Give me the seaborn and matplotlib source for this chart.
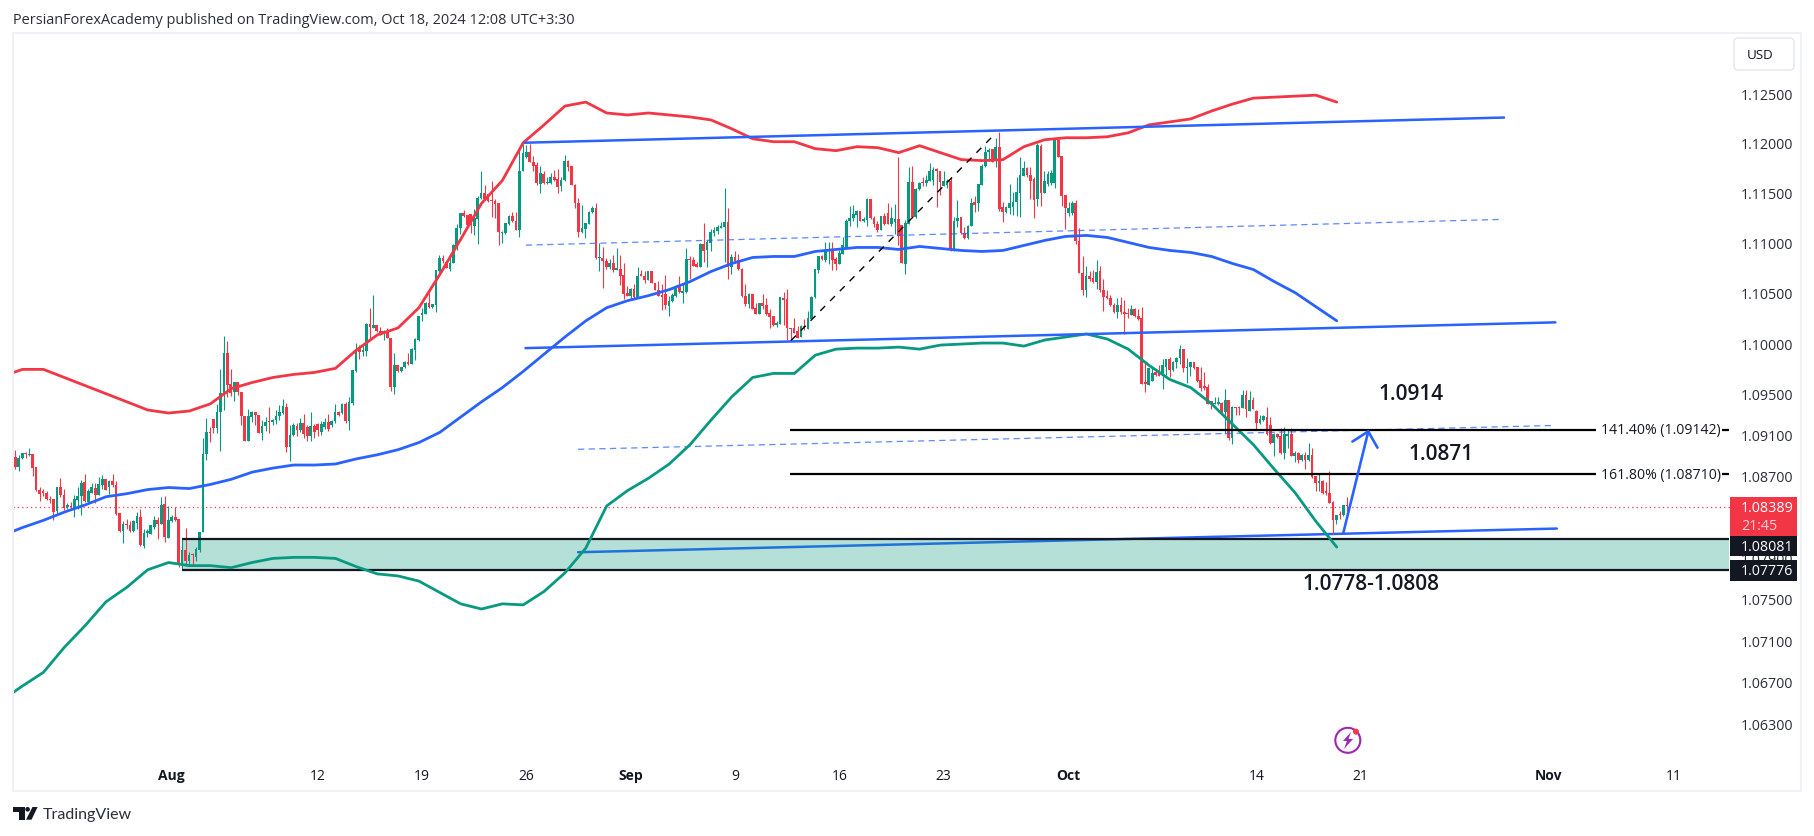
import numpy as np
import pandas as pd
import seaborn as sns
import matplotlib.pyplot as plt
from matplotlib.patches import Rectangle, Circle, Polygon, FancyBboxPatch
from matplotlib.ticker import NullLocator

# EURUSD 4h candles, prices in 1/10000, first candle is 45 bars before Aug 1
first_bar = -45
bars_per_day = 6
opens = [
    10888,10878,10887,10892,10890,10891,10878,10856,10855,10853,
    10847,10847,10835,10859,10851,10839,10840,10838,10846,10850,
    10863,10844,10853,10858,10851,10860,10866,10859,10864,10860,
    10833,10816,10822,10821,10816,10823,10829,10801,10814,10813,
    10820,10826,10822,10842,10809,10825,10829,10827,10783,10797,
    10786,10793,10790,10797,10815,10891,10912,10925,10916,10932,
    10951,10990,10960,10952,10962,10952,10928,10904,10927,10932,
    10929,10911,10918,10923,10922,10924,10928,10931,10937,10898,
    10909,10918,10914,10921,10917,10908,10918,10920,10912,10917,
    10922,10919,10923,10932,10931,10940,10923,10941,10972,10995,
    10991,10992,11019,11015,11018,11012,11009,11012,11005,10957,
    10978,10972,10976,10981,10979,10993,11003,11028,11029,11040,
    11036,11038,11072,11084,11080,11074,11079,11096,11114,11129,
    11127,11128,11116,11123,11144,11149,11148,11142,11141,11139,
    11109,11109,11118,11126,11121,11112,11172,11186,11191,11181,
    11178,11158,11169,11159,11159,11166,11164,11156,11163,11182,
    11177,11157,11139,11110,11113,11118,11130,11134,11084,11084,
    11081,11076,11079,11073,11074,11068,11050,11047,11054,11046,
    11068,11067,11063,11072,11060,11053,11048,11049,11037,11042,
    11047,11056,11050,11051,11083,11082,11078,11076,11098,11092,
    11099,11109,11111,11114,11115,11120,11076,11085,11082,11074,
    11047,11039,11049,11035,11029,11040,11038,11030,11027,11018,
    11019,11045,11044,11015,11015,11012,11006,11017,11014,11024,
    11046,11073,11086,11082,11092,11092,11083,11078,11088,11094,
    11121,11124,11127,11131,11121,11122,11143,11124,11118,11112,
    11126,11129,11118,11120,11123,11117,11078,11118,11161,11125,
    11153,11160,11159,11162,11163,11173,11172,11156,11157,11162,
    11092,11121,11125,11109,11104,11116,11140,11139,11157,11177,
    11191,11194,11182,11196,11135,11130,11134,11135,11140,11149,
    11167,11175,11168,11164,11143,11197,11149,11158,11159,11159,
    11203,11187,11147,11129,11129,11139,11101,11070,11053,11067,
    11065,11061,11072,11053,11046,11045,11038,11031,11038,11031,
    11030,11028,11034,11027,11025,10961,10959,10963,10971,10971,
    10968,10976,10984,10973,10981,10985,10994,10975,10976,10981,
    10976,10964,10957,10957,10943,10940,10940,10941,10932,10944,
    10906,10937,10937,10936,10949,10933,10944,10933,10921,10924,
    10927,10919,10902,10910,10908,10892,10908,10910,10889,10892,
    10885,10890,10885,10890,10869,10862,10864,10854,10853,10844,
    10826,10832,10831,10841,
]
closes = [
    10878,10887,10892,10891,10891,10877,10856,10852,10853,10847,
    10846,10834,10859,10851,10838,10841,10839,10847,10850,10862,
    10845,10855,10859,10851,10861,10866,10856,10864,10860,10832,
    10816,10822,10821,10816,10825,10830,10802,10814,10815,10821,
    10826,10822,10841,10810,10826,10829,10826,10783,10797,10786,
    10792,10792,10798,10815,10891,10912,10911,10916,10932,10951,
    10990,10959,10951,10962,10952,10928,10904,10928,10932,10929,
    10911,10918,10922,10922,10924,10928,10932,10938,10898,10909,
    10919,10914,10921,10910,10908,10918,10912,10914,10920,10922,
    10915,10923,10932,10929,10940,10923,10942,10973,10994,10991,
    10993,11019,11016,11018,11012,11009,11012,11005,10957,10978,
    10972,10976,10981,10979,10994,11004,11027,11030,11040,11036,
    11039,11073,11084,11081,11075,11079,11097,11114,11129,11126,
    11117,11117,11124,11144,11149,11143,11141,11141,11138,11110,
    11110,11119,11126,11121,11112,11172,11190,11191,11181,11177,
    11159,11170,11159,11160,11166,11163,11155,11163,11182,11176,
    11157,11139,11110,11114,11119,11130,11134,11084,11084,11081,
    11076,11079,11073,11074,11067,11049,11047,11054,11046,11067,
    11067,11063,11072,11060,11053,11047,11046,11038,11042,11048,
    11056,11051,11052,11083,11082,11077,11076,11098,11091,11100,
    11110,11112,11115,11116,11120,11076,11085,11081,11074,11047,
    11039,11049,11034,11029,11040,11037,11029,11026,11018,11020,
    11046,11043,11015,11014,11010,11005,11017,11016,11025,11046,
    11074,11086,11083,11092,11093,11082,11078,11089,11097,11121,
    11124,11128,11131,11121,11123,11143,11124,11118,11112,11126,
    11118,11118,11124,11123,11106,11079,11119,11161,11125,11153,
    11159,11159,11163,11172,11173,11172,11160,11162,11162,11092,
    11121,11124,11109,11104,11116,11139,11137,11158,11177,11191,
    11193,11181,11196,11133,11130,11135,11139,11140,11150,11168,
    11175,11168,11162,11142,11198,11149,11162,11169,11170,11203,
    11186,11146,11134,11134,11139,11101,11070,11053,11067,11064,
    11061,11071,11053,11046,11045,11038,11031,11038,11031,11029,
    11029,11034,11027,11024,10960,10960,10975,10970,10968,10967,
    10978,10984,10973,10981,10985,10994,10975,10976,10981,10975,
    10963,10956,10956,10940,10940,10941,10942,10932,10944,10906,
    10937,10936,10936,10949,10935,10944,10935,10921,10925,10928,
    10910,10902,10910,10907,10892,10910,10910,10889,10892,10885,
    10890,10885,10890,10868,10862,10864,10853,10853,10843,10826,
    10831,10831,10841,10840,
]
highs = [
    10895,10890,10892,10893,10897,10891,10878,10859,10857,10855,
    10850,10847,10859,10867,10857,10843,10844,10851,10859,10865,
    10871,10857,10862,10862,10868,10870,10866,10865,10871,10864,
    10833,10825,10827,10825,10826,10834,10837,10818,10818,10821,
    10830,10829,10849,10850,10840,10831,10839,10827,10808,10819,
    10795,10794,10800,10815,10906,10926,10917,10925,10940,10974,
    11007,11002,10974,10962,10962,10952,10928,10935,10933,10932,
    10929,10924,10927,10937,10925,10934,10939,10945,10941,10919,
    10921,10921,10926,10930,10919,10932,10920,10921,10923,10926,
    10930,10924,10940,10933,10941,10942,10947,10973,11000,10998,
    10998,11020,11035,11048,11018,11016,11013,11015,11005,10990,
    10978,10976,10982,10990,10995,11005,11027,11035,11041,11050,
    11039,11073,11087,11087,11081,11088,11098,11118,11129,11132,
    11127,11128,11133,11146,11172,11157,11148,11162,11143,11139,
    11111,11119,11127,11130,11130,11195,11199,11198,11199,11187,
    11181,11177,11172,11166,11170,11173,11174,11166,11188,11183,
    11177,11158,11144,11137,11119,11131,11136,11139,11099,11095,
    11084,11083,11087,11094,11087,11079,11057,11055,11059,11076,
    11073,11072,11072,11072,11060,11062,11059,11068,11047,11050,
    11058,11067,11060,11094,11086,11085,11080,11099,11119,11102,
    11113,11115,11117,11120,11154,11134,11088,11091,11088,11075,
    11059,11050,11049,11040,11040,11049,11045,11034,11027,11022,
    11046,11051,11054,11015,11025,11017,11018,11024,11032,11047,
    11074,11086,11087,11100,11100,11100,11085,11092,11105,11123,
    11136,11137,11132,11131,11125,11144,11143,11126,11121,11126,
    11129,11139,11135,11138,11186,11117,11122,11176,11177,11154,
    11161,11166,11168,11180,11176,11175,11172,11172,11164,11166,
    11125,11142,11125,11115,11117,11144,11146,11158,11179,11197,
    11195,11194,11205,11211,11140,11136,11158,11150,11166,11186,
    11182,11176,11176,11166,11200,11199,11172,11172,11173,11205,
    11204,11187,11147,11140,11141,11142,11114,11086,11077,11072,
    11073,11082,11077,11064,11053,11048,11040,11045,11046,11043,
    11035,11038,11035,11034,11036,10981,10975,10976,10973,10978,
    10984,10984,10986,10982,10986,10998,10994,10985,10981,10981,
    10976,10976,10971,10960,10943,10947,10947,10942,10955,10944,
    10938,10937,10938,10954,10954,10953,10947,10934,10929,10929,
    10937,10927,10911,10911,10916,10917,10915,10916,10894,10893,
    10891,10893,10902,10897,10869,10872,10865,10863,10874,10845,
    10831,10835,10841,10849,
]
lows = [
    10876,10874,10886,10887,10889,10869,10855,10845,10850,10846,
    10843,10826,10833,10849,10836,10837,10836,10829,10837,10831,
    10844,10844,10853,10843,10851,10857,10856,10852,10859,10831,
    10815,10804,10818,10815,10815,10818,10801,10799,10810,10813,
    10818,10808,10822,10805,10809,10824,10825,10781,10779,10782,
    10782,10783,10786,10795,10815,10885,10903,10911,10911,10894,
    10934,10947,10948,10943,10949,10919,10904,10904,10922,10919,
    10911,10905,10913,10911,10919,10920,10924,10930,10893,10884,
    10908,10908,10912,10906,10904,10904,10906,10908,10909,10915,
    10913,10917,10921,10928,10930,10921,10914,10939,10971,10984,
    10987,10987,11004,11015,11011,11008,11003,11005,10953,10950,
    10971,10971,10975,10978,10979,10983,11002,11022,11029,11035,
    11035,11031,11069,11079,11075,11072,11079,11092,11108,11125,
    11116,11109,11107,11098,11143,11142,11140,11125,11124,11097,
    11099,11108,11117,11120,11112,11105,11172,11185,11181,11172,
    11157,11149,11158,11158,11158,11162,11149,11151,11162,11172,
    11157,11134,11105,11109,11104,11118,11129,11083,11072,11055,
    11074,11074,11071,11073,11058,11044,11047,11043,11044,11045,
    11067,11060,11063,11060,11053,11047,11033,11034,11027,11041,
    11046,11050,11040,11050,11064,11077,11076,11076,11080,11076,
    11091,11106,11108,11114,11080,11064,11069,11079,11073,11046,
    11037,11035,11034,11029,11029,11034,11028,11015,11017,11016,
    11019,11018,11003,11003,11010,11005,11006,11013,11014,11024,
    11045,11070,11082,11080,11078,11073,11073,11078,11088,11094,
    11116,11121,11115,11121,11120,11116,11123,11115,11110,11112,
    11117,11118,11116,11108,11097,11079,11069,11118,11125,11124,
    11152,11156,11156,11162,11157,11135,11147,11156,11154,11091,
    11091,11115,11108,11103,11103,11116,11130,11131,11157,11176,
    11182,11181,11176,11131,11120,11129,11128,11127,11126,11125,
    11167,11166,11143,11124,11136,11136,11149,11156,11157,11154,
    11186,11136,11113,11126,11127,11098,11070,11048,11046,11062,
    11060,11054,11051,11032,11044,11037,11030,11025,11029,11009,
    11025,11028,11026,11023,10960,10952,10959,10963,10967,10967,
    10955,10968,10966,10972,10975,10979,10971,10961,10967,10974,
    10962,10953,10954,10940,10935,10940,10939,10929,10910,10905,
    10901,10929,10929,10936,10927,10933,10935,10915,10920,10923,
    10909,10901,10889,10906,10891,10886,10897,10889,10883,10882,
    10884,10876,10884,10867,10855,10855,10852,10851,10843,10813,
    10822,10827,10830,10832,
]

# daily bollinger bands, one value per trading day starting 8 days before Aug 1
band_upper = [
    10967,10974,10974,10966,10958,10950,10942,10934,10931,10933,
    10940,10955,10961,10966,10969,10971,10975,10993,11008,11015,
    11035,11068,11103,11139,11162,11200,11218,11237,11241,11230,
    11228,11230,11228,11226,11223,11214,11204,11201,11201,11194,
    11192,11196,11195,11190,11197,11190,11183,11182,11183,11196,
    11203,11205,11205,11206,11210,11218,11221,11224,11232,11239,
    11245,11246,11247,11248,11241,
]
band_middle = [
    10811,10819,10826,10834,10841,10849,10852,10856,10858,10857,
    10861,10866,10873,10877,10880,10880,10881,10886,10890,10895,
    10902,10912,10927,10942,10956,10972,10989,11006,11022,11035,
    11042,11047,11053,11061,11071,11079,11085,11086,11086,11091,
    11093,11095,11095,11093,11096,11094,11092,11091,11092,11097,
    11102,11106,11107,11105,11100,11095,11092,11090,11086,11079,
    11073,11061,11050,11036,11022,
]
band_lower = [
    10652,10666,10679,10703,10724,10747,10761,10778,10785,10782,
    10782,10780,10785,10789,10790,10790,10789,10781,10774,10772,
    10767,10756,10745,10740,10745,10744,10757,10775,10799,10840,
    10855,10867,10881,10900,10924,10947,10966,10970,10970,10988,
    10994,10995,10995,10996,10994,10998,10999,11000,11000,10997,
    11003,11006,11009,11004,10994,10978,10964,10956,10940,10920,
    10900,10876,10853,10825,10800,
]
band_first_day = -8.15

# hand drawn lines: (day, price) of both ends
solid_lines = [
    ([16.93, 63.87], [11200, 11225.4]),
    ([16.96, 66.33], [10995, 11020.5]),
]
support_line = ([19.48, 66.40], [10795, 10818])
dashed_lines = [
    ([16.98, 63.72], [11097.3, 11123]),
    ([19.48, 66.18], [10895.4, 10918.7]),
]
fib_swing = ([29.69, 39.50], [11002.5, 11209.6])
arrow_days = [56.17, 57.36]
arrow_prices = [10814.3, 10912.9]
arrow_head_days = [56.6, 57.36, 57.8]
arrow_head_prices = [10903, 10912.9, 10897]

zone_low, zone_high = 10777.6, 10808.1
last_price = 10838.9
fib_levels = [10914.2, 10871.0]
fib_labels = ['141.40% (1.09142)', '161.80% (1.08710)']

# 1.08300 sits completely behind the red price tag
price_ticks = [1.063, 1.067, 1.071, 1.075, 1.079, 1.087, 1.091, 1.095,
               1.100, 1.105, 1.110, 1.115, 1.120, 1.125]
date_ticks = [0, 7, 12, 17, 22, 27, 32, 37, 43, 52, 57, 66, 72]
date_labels = ['Aug', '12', '19', '26', 'Sep', '9', '16', '23', 'Oct', '14', '21', 'Nov', '11']
month_labels = ['Aug', 'Sep', 'Oct', 'Nov']

RED = '#F23645'
GREEN = '#089981'
BLUE = '#2962FF'
INK = '#131722'

sns.set_theme(style='white')
plt.rcParams['font.family'] = ['Open Sans', 'DejaVu Sans']

candles = pd.DataFrame({'open': opens, 'close': closes, 'high': highs, 'low': lows}) / 1e4
candles['day'] = (first_bar + np.arange(len(candles))) / bars_per_day
candles['color'] = np.where(candles['close'] >= candles['open'], GREEN, RED)

band_days = band_first_day + np.arange(len(band_upper))
bands = pd.concat([
    pd.DataFrame({'day': band_days, 'price': np.array(vals) / 1e4, 'band': name})
    for name, vals in [('upper', band_upper), ('middle', band_middle), ('lower', band_lower)]
])

fig = plt.figure(figsize=(18.14, 8.37), dpi=100)
ax = fig.add_axes([13 / 1814, (837 - 760) / 837, 1717 / 1814, 722 / 837])

def plines(days, prices, **kw):
    ax.plot(days, np.array(prices) / 1e4, **kw)

# zone and hand drawn lines under the candles
plines(*support_line, color=BLUE, lw=1.8, zorder=1)
ax.axhspan(zone_low / 1e4, zone_high / 1e4, xmin=(0.48 + 7.608) / 82.308, xmax=0.9995,
           color=GREEN, alpha=0.3, lw=0, zorder=1.5)
ax.hlines([zone_low / 1e4, zone_high / 1e4], 0.48, 74.65, color=INK, lw=1.6, zorder=3)

for (d, p) in dashed_lines:
    plines(d, p, color=BLUE, lw=0.9, ls=(0, (5, 3.5)), alpha=0.75, zorder=2.5)
ax.hlines(last_price / 1e4, -7.608, 74.7, color=RED, lw=0.9, ls=(0, (1, 2.5)), zorder=1.8)

# candles
ax.vlines(candles['day'], candles['low'], candles['high'], colors=candles['color'], lw=0.8, zorder=2)
body_low = candles[['open', 'close']].min(axis=1)
body_h = (candles['close'] - candles['open']).abs().clip(lower=0.00012)
ax.bar(candles['day'], body_h, bottom=body_low, width=2.7 / 20.86, color=candles['color'], lw=0, zorder=2.1)

sns.lineplot(data=bands, x='day', y='price', hue='band', estimator=None, sort=False,
             palette={'upper': RED, 'middle': BLUE, 'lower': GREEN}, lw=2.0,
             legend=False, ax=ax, zorder=3)

for (d, p) in solid_lines:
    plines(d, p, color=BLUE, lw=1.8, zorder=3.2)
plines(*fib_swing, color='black', lw=1.0, ls=(0, (5, 5)), zorder=3.2)
for lvl in fib_levels:
    ax.hlines(lvl / 1e4, 29.64, 68.3, color='black', lw=1.6, zorder=3.1)
    ax.hlines(lvl / 1e4, 74.33, 74.65, color='black', lw=1.6, zorder=3.1)
plines(arrow_days, arrow_prices, color=BLUE, lw=1.9, zorder=3.4)
plines(arrow_head_days, arrow_head_prices, color=BLUE, lw=1.9, zorder=3.4)

ax.set_yscale('log')
ax.set_xlim(-7.608, 74.70)
ax.set_ylim(1.05961, 1.13070)
ax.yaxis.tick_right()
ax.set_yticks(price_ticks)
ax.set_yticklabels([f'{t:.5f}' for t in price_ticks])
ax.set_xticks(date_ticks)
ax.set_xticklabels(date_labels)
ax.yaxis.set_minor_locator(NullLocator())
ax.tick_params(axis='y', length=0, pad=7.5, labelsize=10.3, labelcolor='#2A2E39')
ax.tick_params(axis='x', length=0, pad=6.5, labelsize=10, labelcolor=INK)
for lab in ax.get_xticklabels():
    if lab.get_text() in month_labels:
        lab.set_fontweight('bold')
ax.set_xlabel('')
ax.set_ylabel('')
for s in ax.spines.values():
    s.set_visible(False)

# page furniture in pixel coordinates
over = fig.add_axes([0, 0, 1, 1])
over.set_xlim(0, 1814)
over.set_ylim(837, 0)
over.axis('off')
over.add_patch(Rectangle((12.5, 33.5), 1788.5, 758.5, fill=False, ec='#EFF1F7', lw=1.5))

over.text(13, 20, 'PersianForexAcademy published on TradingView.com, Oct 18, 2024 12:08 UTC+3:30',
          fontsize=10.45, color='#2A2E39', va='center')

over.add_patch(FancyBboxPatch((1734, 39), 60, 32, boxstyle='round,pad=0,rounding_size=4',
                              fc='white', ec='#E0E3EB', lw=0.9))
over.text(1760, 55, 'USD', fontsize=9.6, color=INK, ha='center', va='center')

over.text(1411.5, 395, '1.0914', fontsize=15, fontweight='semibold', color=INK, ha='center', va='center')
over.text(1441.5, 455, '1.0871', fontsize=15, fontweight='semibold', color=INK, ha='center', va='center')
over.text(1371, 584, '1.0778-1.0808', fontsize=15, fontweight='semibold', color=INK, ha='center', va='center')
for y, txt in zip([430.7, 475], fib_labels):
    over.text(1661, y, txt, fontsize=10.1, color=INK, ha='center', va='center')

# price tags
over.add_patch(Rectangle((1730, 498.3), 67, 38.5, fc=RED, ec='none'))
over.text(1741, 508.5, '1.08389', fontsize=10.3, color='white', ha='left', va='center')
over.text(1741, 526, '21:45', fontsize=10.3, color='#FFD0D4', ha='left', va='center')
for y0, y1, txt in [(537.3, 557.3, '1.08081'), (561, 581.7, '1.07776')]:
    over.add_patch(Rectangle((1730, y0), 67, y1 - y0, fc=INK, ec='none'))
    over.text(1741, (y0 + y1) / 2, txt, fontsize=10.3, color='white', ha='left', va='center')

# purple bolt badge
over.add_patch(Circle((1347.8, 741.3), 12.5, fill=False, ec='#9C27B0', lw=1.5))
over.add_patch(Polygon([(1351, 733), (1343, 742), (1347, 742), (1344, 750), (1353, 740), (1348.5, 740)],
                       fc='#9C27B0', ec='none'))
over.add_patch(Circle((1356, 732.7), 3, fc=RED, ec='none'))

# TradingView logo
over.add_patch(Polygon([(13.3, 808), (24.7, 808), (24.7, 820.7), (19, 820.7), (19, 812.5), (13.3, 812.5)],
                       fc=INK, ec='none'))
over.add_patch(Circle((27.6, 810.3), 2.3, fc=INK, ec='none'))
over.add_patch(Polygon([(32.5, 808), (37.6, 808), (31.5, 820.7), (26, 820.7)], fc=INK, ec='none'))
over.text(43, 815.5, 'TradingView', fontsize=11.5, color='#2A2E39', va='center', family='Lato')

fig.savefig('out.png', dpi=100)
